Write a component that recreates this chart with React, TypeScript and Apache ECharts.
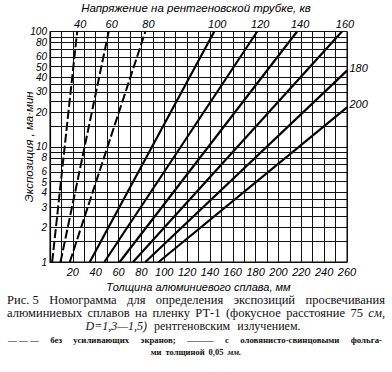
import React, { useEffect, useRef } from "react";
import * as echarts from "echarts";

// Tube voltage, kV, of each line
const voltages = [40, 60, 80, 100, 120, 140, 160, 180, 200];
// true = with tin-lead foils (solid), false = without screens (dashed)
const withScreens = [false, false, false, true, true, true, true, true, true];
// start of each line (thickness mm, exposure mA·min)
const thicknessStart = [1.9, 9.2, 17.3, 34.8, 47.6, 61.0, 72.7, 83.5, 95.1];
const exposureStart = [1, 1, 1, 1, 1, 1, 1, 1, 1];
// end of each line
const thicknessEnd = [23.8, 51.4, 83.5, 143.8, 181.4, 216.3, 255.6, 260, 260];
const exposureEnd = [100, 100, 100, 100, 100, 100, 100, 45.8, 22.0];
// where the voltage label sits
const labelAtRight = [false, false, false, false, false, false, false, true, true];

const exposureGrid = [1, 1.5, 2, 2.5, 3, 3.5, 4, 5, 6, 7, 8, 9, 10, 15, 20, 25, 30, 35, 40, 50, 60, 70, 80, 90, 100];
const exposureLabels = [1, 2, 3, 4, 5, 6, 8, 10, 20, 30, 40, 50, 60, 80, 100];
const thicknessLabels = [20, 40, 60, 80, 100, 120, 140, 160, 180, 200, 220, 240, 260];

const topTitle = "Напряжение на рентгеновской трубке, кв";
const yTitle = "Экспозиция , ма·мин";
const xTitle = "Толщина алюминиевого сплава, мм";

const AX_FONT = "'Liberation Sans Narrow', 'Liberation Sans', sans-serif";
const SERIF = "'Liberation Serif', 'DejaVu Serif', serif";

type Line = { words: string[]; italic?: string[]; x0: number; x1: number; y: number; size: number; weight?: string; minGap?: number };

const captionLines: Line[] = [
  { words: ["Рис. 5", "Номограмма", "для", "определения", "экспозиций", "просвечивания"], x0: 7, x1: 385, y: 300, size: 12.5 },
  { words: ["алюминиевых", "сплавов", "на", "пленку", "РТ-1", "(фокусное", "расстояние", "75", "см,"], italic: ["см,"], x0: 7, x1: 385, y: 313, size: 12.5 },
  { words: ["D=1,3—1,5)", "рентгеновским", "излучением."], italic: ["D=1,3—1,5)"], x0: 88, x1: 298, y: 326, size: 12, minGap: 7 },
  { words: ["— — —", "без", "усиливающих", "экранов;", "———", "с", "оловянисто-свинцовыми", "фольга-"], x0: 8, x1: 382, y: 340, size: 8.8, weight: "bold", minGap: 4 },
  { words: ["ми", "толщиной", "0,05", "мм."], italic: ["мм."], x0: 160, x1: 232, y: 352, size: 8.5, weight: "bold", minGap: 4 },
];

function buildCaption() {
  const canvas = document.createElement("canvas");
  const ctx = canvas.getContext("2d")!;
  const els: any[] = [];
  captionLines.forEach((ln) => {
    const styles = ln.words.map((w) => (ln.italic && ln.italic.includes(w) ? "italic" : "normal"));
    const widths = ln.words.map((w, i) => {
      ctx.font = `${styles[i]} ${ln.weight || "normal"} ${ln.size}px ${SERIF}`;
      return ctx.measureText(w).width;
    });
    const total = widths.reduce((a, b) => a + b, 0);
    const n = ln.words.length;
    let gap = n > 1 ? (ln.x1 - ln.x0 - total) / (n - 1) : 0;
    let x = ln.x0;
    const minGap = ln.minGap ?? 3;
    if (gap < minGap) {
      gap = minGap;
      const full = total + gap * (n - 1);
      x = (ln.x0 + ln.x1) / 2 - full / 2;
    }
    ln.words.forEach((w, i) => {
      els.push({
        type: "text",
        x,
        y: ln.y,
        silent: true,
        style: {
          text: w,
          fill: "#111",
          fontFamily: SERIF,
          fontSize: ln.size,
          fontStyle: styles[i],
          fontWeight: ln.weight || "normal",
          textVerticalAlign: "middle",
          textAlign: "left",
        },
      });
      x += widths[i] + gap;
    });
  });
  return els;
}

// small vertical nudges for the crowded tick labels (5/6, 50/60)
function labelNudge(v: number) {
  if (v === 5 || v === 50) return 1;
  if (v === 6 || v === 60) return -1;
  return 0;
}

export default function App() {
  const ref = useRef<HTMLDivElement>(null);
  useEffect(() => {
    if (!ref.current) return;
    const chart = echarts.init(ref.current, undefined, { renderer: "svg" });
    const labelStyle = { fontFamily: AX_FONT, fontStyle: "italic" as const, fontSize: 11, color: "#000" };
    const series: any[] = voltages.map((v, i) => ({
      type: "line",
      name: `${v} кв`,
      showSymbol: true,
      symbol: "circle",
      symbolSize: 1,
      itemStyle: { color: "#000" },
      lineStyle: { color: "#000", width: withScreens[i] ? 2.2 : 2, type: withScreens[i] ? "solid" : [9, 3] },
      clip: false,
      z: 4,
      data: [
        [thicknessStart[i], exposureStart[i]],
        {
          value: [thicknessEnd[i], exposureEnd[i]],
          label: labelAtRight[i]
            ? { show: true, formatter: String(v), position: "right", distance: 2, offset: [0, -3], ...labelStyle }
            : { show: true, formatter: String(v), position: "top", distance: 2, offset: [3, 0], ...labelStyle },
        },
      ],
    }));
    series[0].markLine = {
      silent: true,
      symbol: "none",
      animation: false,
      lineStyle: { color: "#111", type: "solid", width: 1 },
      label: { show: false },
      emphasis: { disabled: true },
      data: exposureGrid.map((g) => ({
        yAxis: g,
        label: exposureLabels.includes(g)
          ? {
              show: true,
              position: "start",
              distance: 3,
              formatter: String(g),
              ...labelStyle,
              fontSize: 10,
              lineHeight: 8,
              padding: 0,
              offset: [0, labelNudge(g)],
            }
          : { show: false },
      })),
    };
    chart.setOption({
      animation: false,
      backgroundColor: "#fff",
      title: {
        text: topTitle,
        left: "center",
        top: 1,
        padding: 0,
        textStyle: { fontFamily: AX_FONT, fontStyle: "italic", fontWeight: "normal", fontSize: 11.5, lineHeight: 14, color: "#000" },
      },
      grid: { left: 50, top: 31.5, width: 297, height: 230.5, show: true, borderColor: "#000", borderWidth: 1, backgroundColor: "transparent" },
      xAxis: {
        type: "value",
        min: 0,
        max: 260,
        interval: 10,
        name: xTitle,
        nameLocation: "middle",
        nameGap: 12,
        nameTextStyle: { ...labelStyle, fontSize: 11 },
        axisLine: { show: true, lineStyle: { color: "#000", width: 1.2 } },
        axisTick: { show: false },
        splitLine: { show: true, lineStyle: { color: "#111", width: 1 } },
        axisLabel: {
          margin: 4,
          formatter: (val: number) => (thicknessLabels.includes(val) ? String(val) : ""),
          ...labelStyle,
        },
      },
      yAxis: {
        type: "log",
        logBase: 10,
        min: 1,
        max: 100,
        name: yTitle,
        nameLocation: "middle",
        nameRotate: 90,
        nameGap: 15,
        nameTextStyle: { ...labelStyle, fontSize: 11.5 },
        axisLine: { show: true, lineStyle: { color: "#000", width: 1.2 } },
        axisTick: { show: false },
        axisLabel: { show: false },
        splitLine: { show: false },
      },
      graphic: buildCaption(),
      series,
    });
    return () => chart.dispose();
  }, []);
  return (
    <div
      ref={ref}
      style={{ position: "fixed", left: 0, top: 0, width: 392, height: 372, background: "#fff" }}
    />
  );
}
